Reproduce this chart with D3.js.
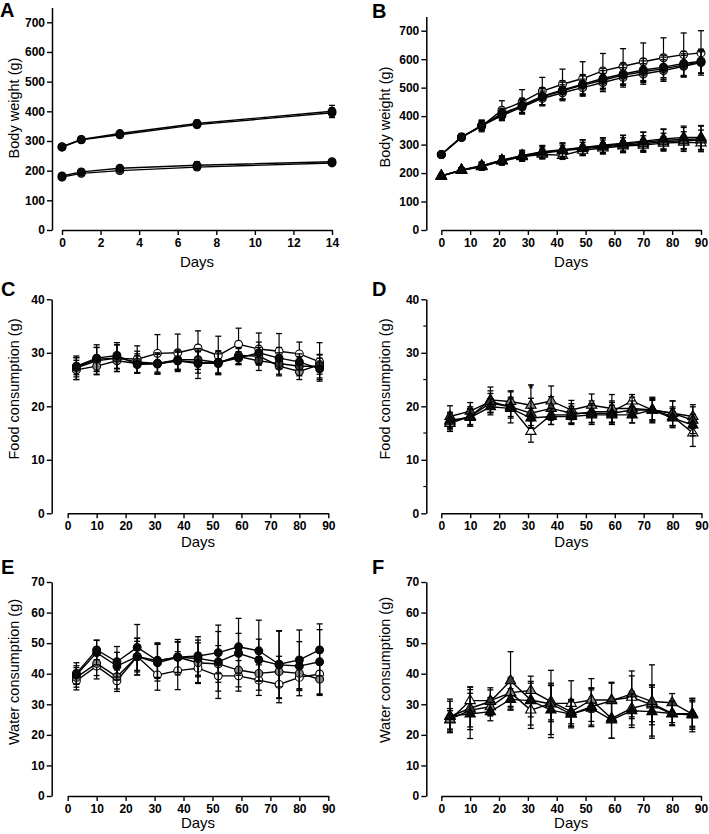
<!DOCTYPE html>
<html><head><meta charset="utf-8">
<script src="https://cdn.jsdelivr.net/npm/d3@7"></script>
<style>body{margin:0;background:#fff}svg{display:block}</style>
</head><body>
<script>
// ---------- DATA ----------
// Panel A: body weight, days 0-14
const aDays = [0, 1, 3, 7, 14];
const aMale1 = [281, 305, 325, 359, 400];
const aMale1Sd = [5, 5, 8, 11, 20];
const aMale2 = [279, 304, 321, 355, 395];
const aMale2Sd = [5, 5, 7, 10, 16];
const aFem1 = [182, 196, 208, 218, 230];
const aFem1Sd = [5, 8, 9, 12, 8];
const aFem2 = [178, 191, 200, 212, 226];
const aFem2Sd = [5, 7, 9, 10, 8];

// Panel B: body weight, days 0-90
const bDays = [0, 7, 14, 21, 28, 35, 42, 49, 56, 63, 70, 77, 84, 90];
const bMaleOpen = [265, 327, 365, 421, 450, 488, 512, 532, 559, 575, 591, 605, 616, 622];
const bMaleOpenSd = [8, 12, 20, 33, 43, 48, 53, 59, 61, 62, 66, 70, 76, 78];
const bMaleBlack = [265, 325, 368, 405, 438, 470, 492, 512, 532, 548, 562, 572, 585, 593];
const bMaleBlackSd = [6, 10, 18, 20, 25, 30, 32, 34, 36, 38, 40, 42, 42, 42];
const bMaleDark = [265, 326, 366, 410, 435, 468, 489, 509, 526, 544, 556, 567, 579, 591];
const bMaleDarkSd = [6, 10, 16, 18, 24, 28, 30, 32, 34, 36, 38, 40, 40, 40];
const bMaleGray = [265, 325, 366, 402, 432, 462, 482, 500, 518, 536, 548, 560, 575, 588];
const bMaleGraySd = [6, 10, 16, 18, 22, 26, 28, 30, 32, 34, 36, 38, 38, 38];
const bFemOpen = [190, 210, 222, 243, 257, 266, 262, 280, 288, 295, 298, 305, 308, 306];
const bFemOpenSd = [5, 8, 12, 14, 15, 16, 14, 17, 18, 18, 20, 22, 22, 24];
const bFemGray = [190, 211, 226, 245, 260, 272, 280, 289, 295, 302, 308, 315, 318, 320];
const bFemGraySd = [5, 8, 12, 15, 18, 22, 25, 28, 28, 30, 35, 38, 42, 45];
const bFemDark = [190, 210, 225, 245, 262, 275, 282, 290, 298, 305, 312, 320, 325, 325];
const bFemDarkSd = [5, 8, 14, 15, 18, 22, 24, 26, 26, 28, 32, 35, 40, 42];
const bFemBlack = [189, 210, 224, 242, 258, 270, 278, 286, 292, 298, 303, 310, 313, 316];
const bFemBlackSd = [5, 8, 12, 14, 16, 18, 20, 22, 24, 26, 28, 30, 32, 35];

// Panels C-F: weekly consumption
const wDays = [3, 10, 17, 24, 31, 38, 45, 52, 59, 66, 73, 80, 87];

// C: food consumption, males
const cOpen = [27.2, 28.5, 29.0, 28.8, 29.9, 30.0, 30.9, 29.5, 31.6, 30.7, 30.3, 29.8, 28.3];
const cOpenSd = [2.2, 2.5, 2.5, 2.5, 3.5, 3.5, 3.2, 3.6, 3.0, 3.0, 3.3, 2.2, 3.6];
const cBlack = [27.5, 29.0, 29.5, 27.8, 28.0, 28.5, 28.0, 28.2, 29.0, 30.0, 29.0, 28.3, 27.0];
const cBlackSd = [1.6, 2.5, 2.4, 1.6, 1.8, 1.8, 2.8, 2.2, 1.2, 2.0, 2.0, 1.5, 2.0];
const cDark = [27.3, 28.8, 29.0, 28.3, 28.0, 28.7, 28.7, 28.2, 29.3, 28.5, 28.0, 27.5, 27.5];
const cDarkSd = [1.8, 2.2, 2.5, 2.0, 2.0, 1.8, 1.8, 2.0, 1.5, 1.8, 2.0, 1.8, 2.2];
const cGray = [26.8, 27.5, 28.5, 28.0, 27.9, 28.5, 28.2, 28.0, 29.5, 29.4, 27.5, 26.5, 27.8];
const cGraySd = [1.8, 1.6, 1.5, 1.8, 1.8, 1.6, 2.0, 1.8, 1.5, 1.6, 1.8, 1.5, 1.8];

// D: food consumption, females
const dOpen = [16.8, 18.1, 20.6, 19.9, 15.3, 18.4, 18.4, 19.0, 19.0, 21.0, 19.3, 18.1, 15.0];
const dOpenSd = [1.5, 1.5, 1.8, 1.8, 2.0, 1.8, 1.6, 2.0, 2.0, 1.2, 1.8, 1.8, 2.5];
const dGray = [17.1, 18.1, 21.2, 20.9, 20.2, 21.0, 19.3, 20.2, 19.6, 19.6, 19.3, 18.7, 18.1];
const dGraySd = [1.5, 1.8, 2.4, 1.8, 3.8, 2.8, 1.8, 2.1, 2.6, 1.4, 2.4, 2.3, 2.2];
const dDark = [18.1, 19.1, 20.9, 19.9, 18.7, 19.6, 18.7, 18.7, 18.7, 19.3, 19.3, 18.7, 17.4];
const dDarkSd = [2.0, 1.6, 2.0, 3.0, 2.8, 2.2, 1.8, 1.8, 2.0, 2.4, 2.2, 2.3, 2.5];
const dBlack = [17.4, 17.9, 19.9, 19.6, 17.8, 18.1, 18.1, 18.4, 18.4, 18.4, 19.3, 17.8, 16.5];
const dBlackSd = [1.5, 1.6, 1.5, 1.8, 1.8, 1.5, 1.5, 1.8, 1.8, 1.5, 2.0, 1.8, 2.0];
const dAsteriskDay = [31];
const dAsteriskValue = [23.7];

// E: water consumption, males
const eBlackA = [40.1, 47.8, 43.9, 48.6, 44.3, 45.4, 45.8, 46.9, 48.8, 47.5, 43.1, 44.5, 47.8];
const eBlackASd = [3.5, 3.2, 5.0, 7.5, 5.8, 5.8, 6.3, 6.9, 9.3, 10.0, 11.0, 9.8, 8.5];
const eBlackB = [39.6, 46.9, 42.5, 45.6, 43.6, 45.4, 45.0, 43.9, 46.7, 44.5, 42.9, 42.5, 43.9];
const eBlackBSd = [3.0, 4.0, 4.5, 5.0, 6.0, 5.0, 6.0, 12.0, 6.5, 6.8, 11.0, 8.0, 10.5];
const eGray = [38.8, 43.4, 39.0, 45.6, 44.3, 45.4, 43.6, 43.2, 41.2, 40.1, 40.7, 40.1, 38.2];
const eGraySd = [3.2, 4.0, 4.0, 6.0, 5.5, 5.0, 6.5, 6.0, 5.5, 5.5, 5.0, 5.0, 5.0];
const eOpen = [37.7, 42.5, 37.7, 45.6, 39.6, 41.0, 41.8, 39.3, 39.3, 37.9, 36.5, 38.8, 39.9];
const eOpenSd = [3.0, 4.2, 3.5, 6.0, 5.0, 6.2, 5.0, 5.0, 5.0, 5.0, 6.0, 6.0, 7.0];

// F: water consumption, females
const fOpen = [24.9, 31.2, 31.2, 33.8, 28.1, 30.3, 30.3, 31.4, 31.4, 32.3, 29.8, 26.8, 26.8];
const fOpenSd = [3.0, 4.4, 3.5, 4.5, 6.0, 6.0, 7.4, 7.0, 5.5, 7.0, 6.5, 3.5, 4.0];
const fGray = [25.1, 28.1, 29.2, 33.8, 34.5, 30.9, 27.6, 31.4, 25.4, 28.7, 30.3, 27.0, 26.8];
const fGraySd = [3.5, 5.5, 3.0, 5.0, 3.0, 6.0, 4.0, 4.0, 6.5, 5.5, 6.0, 3.0, 4.5];
const fDark = [26.0, 28.7, 30.9, 37.7, 31.4, 30.1, 26.8, 29.2, 31.2, 33.4, 30.9, 30.5, 26.8];
const fDarkSd = [5.0, 7.0, 4.5, 9.5, 5.5, 11.0, 4.0, 6.0, 6.0, 7.5, 12.0, 3.0, 5.0];
const fBlack = [26.2, 26.8, 27.6, 31.6, 31.2, 28.1, 26.8, 28.7, 24.9, 27.9, 27.6, 27.0, 26.5];
const fBlackSd = [5.5, 8.0, 3.0, 3.5, 8.0, 8.0, 4.5, 6.0, 6.0, 5.5, 8.0, 4.0, 5.5];

// Tick labels
const aXTicks = [0, 2, 4, 6, 8, 10, 12, 14];
const ninetyTicks = [0, 10, 20, 30, 40, 50, 60, 70, 80, 90];
const bwYTicks = [0, 100, 200, 300, 400, 500, 600, 700];
const foodYTicks = [0, 10, 20, 30, 40];
const foodMinorTicks = [5, 15, 25, 35];
const waterYTicks = [0, 10, 20, 30, 40, 50, 60, 70];

// ---------- DRAWING ----------
const W = 709, H = 834;
const FONT = "'Liberation Sans', Arial, Helvetica, sans-serif";
const FILL = {black: "#0a0a0a", dark: "#3a3a3a", gray: "#8a8a8a", open: "#ffffff"};

const svg = d3.select("body").append("svg").attr("width", W).attr("height", H);

function S(days, vals, sds, shape, fill) { return {days, vals, sds, shape, fill}; }

const panels = [
  {letter: "A", lx: 0, ly: 17, axisX: 52, xr: [62, 332], xDomain: [0, 14], xTicks: aXTicks,
   y0: 230, yRef: 700, yRefPx: 22.3, yAxisMax: 750, yTicks: bwYTicks, minor: [],
   ytitle: "Body weight (g)", ytx: 14, yty: 108, dayY: 267,
   series: [S(aDays, aFem2, aFem2Sd, "circle", "dark"), S(aDays, aFem1, aFem1Sd, "circle", "black"),
            S(aDays, aMale2, aMale2Sd, "circle", "dark"), S(aDays, aMale1, aMale1Sd, "circle", "black")]},
  {letter: "B", lx: 372, ly: 18, axisX: 426.3, xr: [441.3, 701], xDomain: [0, 90], xTicks: ninetyTicks,
   y0: 230, yRef: 700, yRefPx: 30.7, yAxisMax: 750, yTicks: bwYTicks, minor: [],
   ytitle: "Body weight (g)", ytx: 385, yty: 117, dayY: 267,
   series: [S(bDays, bFemOpen, bFemOpenSd, "triangle", "open"), S(bDays, bFemGray, bFemGraySd, "triangle", "gray"),
            S(bDays, bFemBlack, bFemBlackSd, "triangle", "dark"), S(bDays, bFemDark, bFemDarkSd, "triangle", "black"),
            S(bDays, bMaleOpen, bMaleOpenSd, "circle", "open"), S(bDays, bMaleGray, bMaleGraySd, "circle", "gray"),
            S(bDays, bMaleDark, bMaleDarkSd, "circle", "dark"), S(bDays, bMaleBlack, bMaleBlackSd, "circle", "black")]},
  {letter: "C", lx: 1, ly: 296, axisX: 51.7, xr: [67.7, 328.3], xDomain: [0, 90], xTicks: ninetyTicks,
   y0: 513.3, yRef: 40, yRefPx: 299.3, yAxisMax: 40, yTicks: foodYTicks, minor: [],
   ytitle: "Food consumption (g)", ytx: 14, yty: 389, dayY: 547,
   series: [S(wDays, cOpen, cOpenSd, "circle", "open"), S(wDays, cGray, cGraySd, "circle", "gray"),
            S(wDays, cDark, cDarkSd, "circle", "dark"), S(wDays, cBlack, cBlackSd, "circle", "black")]},
  {letter: "D", lx: 372, ly: 296, axisX: 426.3, xr: [441.3, 701.5], xDomain: [0, 90], xTicks: ninetyTicks,
   y0: 513.3, yRef: 40, yRefPx: 299.3, yAxisMax: 40, yTicks: foodYTicks, minor: foodMinorTicks,
   ytitle: "Food consumption (g)", ytx: 385, yty: 389, dayY: 547,
   series: [S(wDays, dOpen, dOpenSd, "triangle", "open"), S(wDays, dGray, dGraySd, "triangle", "gray"),
            S(wDays, dDark, dDarkSd, "triangle", "dark"), S(wDays, dBlack, dBlackSd, "triangle", "black")],
   asterisk: true},
  {letter: "E", lx: 1, ly: 574, axisX: 51.7, xr: [67.7, 328.3], xDomain: [0, 90], xTicks: ninetyTicks,
   y0: 796, yRef: 70, yRefPx: 582, yAxisMax: 70, yTicks: waterYTicks, minor: [],
   ytitle: "Water consumption (g)", ytx: 14, yty: 672, dayY: 828,
   series: [S(wDays, eOpen, eOpenSd, "circle", "open"), S(wDays, eGray, eGraySd, "circle", "gray"),
            S(wDays, eBlackB, eBlackBSd, "circle", "black"), S(wDays, eBlackA, eBlackASd, "circle", "black")]},
  {letter: "F", lx: 372, ly: 574, axisX: 426.3, xr: [441.3, 701], xDomain: [0, 90], xTicks: ninetyTicks,
   y0: 796, yRef: 70, yRefPx: 582, yAxisMax: 70, yTicks: waterYTicks, minor: [],
   ytitle: "Water consumption (g)", ytx: 385, yty: 670, dayY: 828,
   series: [S(wDays, fOpen, fOpenSd, "triangle", "open"), S(wDays, fGray, fGraySd, "triangle", "gray"),
            S(wDays, fDark, fDarkSd, "triangle", "dark"), S(wDays, fBlack, fBlackSd, "triangle", "black")]}
];

function drawPanel(p) {
  const g = svg.append("g");
  const x = d3.scaleLinear().domain(p.xDomain).range(p.xr);
  const y = d3.scaleLinear().domain([0, p.yRef]).range([p.y0, p.yRefPx]);
  const yAx = d3.scaleLinear().domain([0, p.yAxisMax]).range([y(0), y(p.yAxisMax)]);

  // Y axis
  const ya = g.append("g").attr("transform", `translate(${p.axisX},0)`)
    .call(d3.axisLeft(yAx).tickValues(p.yTicks).tickSize(5).tickSizeOuter(0).tickPadding(2));
  if (p.minor.length) {
    ya.selectAll(".minor").data(p.minor).enter().append("line").attr("class", "minor")
      .attr("x1", -3).attr("x2", 0).attr("y1", d => yAx(d)).attr("y2", d => yAx(d))
      .attr("stroke", "#000").attr("stroke-width", 1.2);
  }
  // X axis
  const xa = g.append("g").attr("transform", `translate(0,${y(0)})`)
    .call(d3.axisBottom(x).tickValues(p.xTicks).tickSize(5).tickSizeOuter(0).tickPadding(3));
  [ya, xa].forEach(a => {
    a.select(".domain").attr("stroke", "#000").attr("stroke-width", 1.5);
    a.selectAll(".tick line").attr("stroke", "#000").attr("stroke-width", 1.4);
    a.selectAll(".tick text").attr("fill", "#000").style("font-family", FONT)
      .style("font-size", "12px").style("font-weight", "bold");
  });

  // Titles
  g.append("text").attr("x", p.lx).attr("y", p.ly).text(p.letter)
    .style("font-family", FONT).style("font-size", "20px").style("font-weight", "bold");
  g.append("text").attr("transform", `translate(${p.ytx},${p.yty}) rotate(-90)`)
    .attr("text-anchor", "middle").attr("dominant-baseline", "central").text(p.ytitle)
    .style("font-family", FONT).style("font-size", "14.5px");
  g.append("text").attr("x", (x.range()[0] + x.range()[1]) / 2).attr("y", p.dayY)
    .attr("text-anchor", "middle").text("Days")
    .style("font-family", FONT).style("font-size", "15px");

  const line = d3.line().x(d => x(d.day)).y(d => y(d.v));
  const cap = 3;
  p.series.forEach(s => {
    const pts = s.days.map((d, i) => ({day: d, v: s.vals[i], sd: s.sds[i]}));
    const sg = g.append("g");
    // error bars
    pts.forEach(d => {
      const xx = x(d.day), yt = y(d.v + d.sd), yb = y(d.v - d.sd);
      sg.append("line").attr("x1", xx).attr("x2", xx).attr("y1", yt).attr("y2", yb)
        .attr("stroke", "#000").attr("stroke-width", 1.2);
      [yt, yb].forEach(yy => sg.append("line").attr("x1", xx - cap).attr("x2", xx + cap)
        .attr("y1", yy).attr("y2", yy).attr("stroke", "#000").attr("stroke-width", 1.3));
    });
    sg.append("path").datum(pts).attr("d", line).attr("fill", "none")
      .attr("stroke", "#000").attr("stroke-width", 1.4);
    const sym = d3.symbol().type(s.shape === "circle" ? d3.symbolCircle : d3.symbolTriangle)
      .size(s.shape === "circle" ? 48 : 46);
    sg.selectAll("path.m").data(pts).enter().append("path").attr("class", "m")
      .attr("d", sym).attr("transform", d => `translate(${x(d.day)},${y(d.v)})`)
      .attr("fill", FILL[s.fill]).attr("stroke", "#000").attr("stroke-width", 1.1);
  });

  if (p.asterisk) {
    g.selectAll("text.ast").data(dAsteriskDay).enter().append("text").attr("class", "ast")
      .attr("x", d => x(d)).attr("y", (d, i) => y(dAsteriskValue[i]) + 6)
      .attr("text-anchor", "middle").text("*")
      .style("font-family", FONT).style("font-size", "12px").style("font-weight", "bold");
  }
}

panels.forEach(drawPanel);
</script>
</body></html>
